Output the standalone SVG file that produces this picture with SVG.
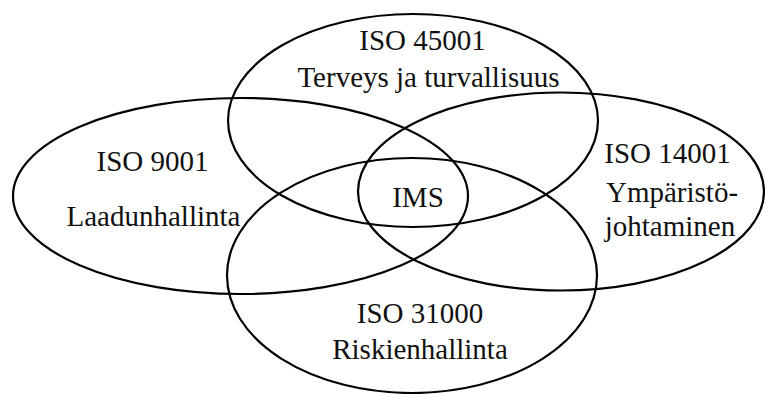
<svg xmlns="http://www.w3.org/2000/svg" width="765" height="394" viewBox="0 0 765 394">
  <style>
    .set { fill: none; stroke: #000; stroke-width: 2.2; }
    .lbl { font-family: "Liberation Serif", "Times New Roman", serif; font-size: 29px; fill: #111; text-anchor: middle; }
  </style>
  <rect width="765" height="394" fill="#fff"/>
  <g id="iso45001">
    <ellipse class="set" cx="413" cy="120.5" rx="185" ry="106.5"/>
    <text class="lbl" x="422.5" y="50">ISO 45001</text>
    <text class="lbl" x="428.5" y="87">Terveys ja turvallisuus</text>
  </g>
  <g id="iso9001">
    <ellipse class="set" cx="240.5" cy="196" rx="227.5" ry="98"/>
    <text class="lbl" x="152.5" y="171">ISO 9001</text>
    <text class="lbl" x="153.5" y="226">Laadunhallinta</text>
  </g>
  <g id="iso14001">
    <ellipse class="set" cx="561" cy="191.5" rx="203" ry="99"/>
    <text class="lbl" x="667.5" y="163">ISO 14001</text>
    <text class="lbl" x="672" y="202">Ympäristö-</text>
    <text class="lbl" x="670" y="236">johtaminen</text>
  </g>
  <g id="iso31000">
    <ellipse class="set" cx="412" cy="275.5" rx="185" ry="117.5"/>
    <text class="lbl" x="420" y="323">ISO 31000</text>
    <text class="lbl" x="420" y="359">Riskienhallinta</text>
  </g>
  <g id="ims">
    <text class="lbl" x="418" y="207">IMS</text>
  </g>
  <g id="connectors"/>
</svg>
